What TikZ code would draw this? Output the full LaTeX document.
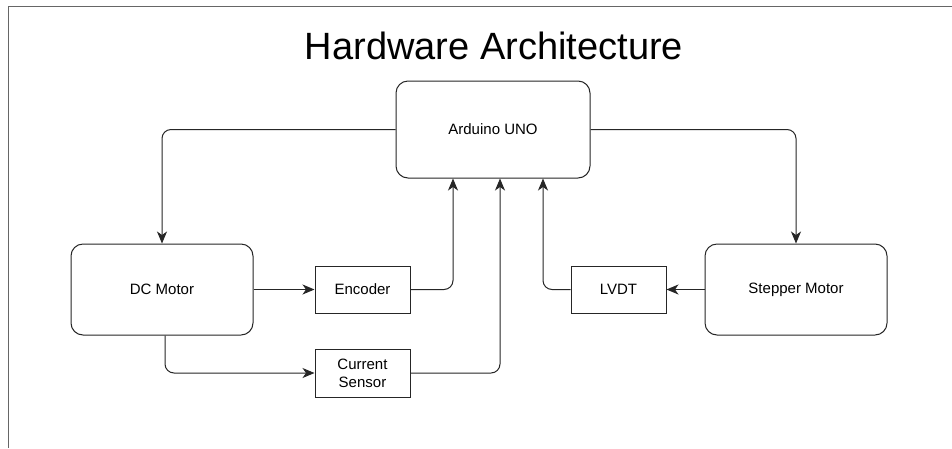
\documentclass[tikz,border=0pt]{standalone}
\usepackage{fontspec}
\setmainfont{Liberation Sans}
\usetikzlibrary{arrows.meta}
\begin{document}
\begin{tikzpicture}[x=1pt,y=-1pt,
  bigbox/.style={draw=black!85,line width=1pt,rounded corners=12pt,minimum width=182pt,minimum height=91pt,inner sep=0pt,font=\fontsize{15}{18}\selectfont},
  smallbox/.style={draw=black!85,line width=1pt,minimum width=95pt,minimum height=47pt,inner sep=0pt,align=center,font=\fontsize{15}{18}\selectfont},
  conn/.style={draw=black!85,line width=1pt,rounded corners=9pt,-{Stealth[length=12pt,width=10pt,inset=3.5pt]}}
]
\useasboundingbox (0,0) rectangle (952,448);
\fill[white] (0,0) rectangle (952,448);
\draw[black!60,line width=1.5pt] (8.5,448) -- (8.5,6.5) -- (952,6.5);
\node[font=\fontsize{38}{42}\selectfont] (title) at (494,46) {Hardware Architecture};
\node[bigbox,minimum width=194pt,minimum height=97pt] (ard) at (493,129.5) {Arduino UNO};
\node[bigbox] (dc) at (162,289.5) {DC Motor};
\node[bigbox] (st) at (796,289.5) {Stepper Motor};
\node[smallbox] (enc) at (362.5,289.5) {Encoder};
\node[smallbox,minimum height=48pt] (cs) at (362.5,373) {Current\\Sensor};
\node[smallbox] (lvdt) at (618.5,289.5) {LVDT};
\draw[conn] (ard.west) -| (dc.north);
\draw[conn] (ard.east) -| (st.north);
\draw[conn] (dc.east) -- (enc.west);
\draw[conn] (enc.east) -| ([xshift=-40pt]ard.south);
\draw[conn] ([xshift=3pt]dc.south) |- (cs.west);
\draw[conn] (cs.east) -| ([xshift=7pt]ard.south);
\draw[conn] (st.west) -- (lvdt.east);
\draw[conn] (lvdt.west) -| ([xshift=50pt]ard.south);
\end{tikzpicture}
\end{document}
